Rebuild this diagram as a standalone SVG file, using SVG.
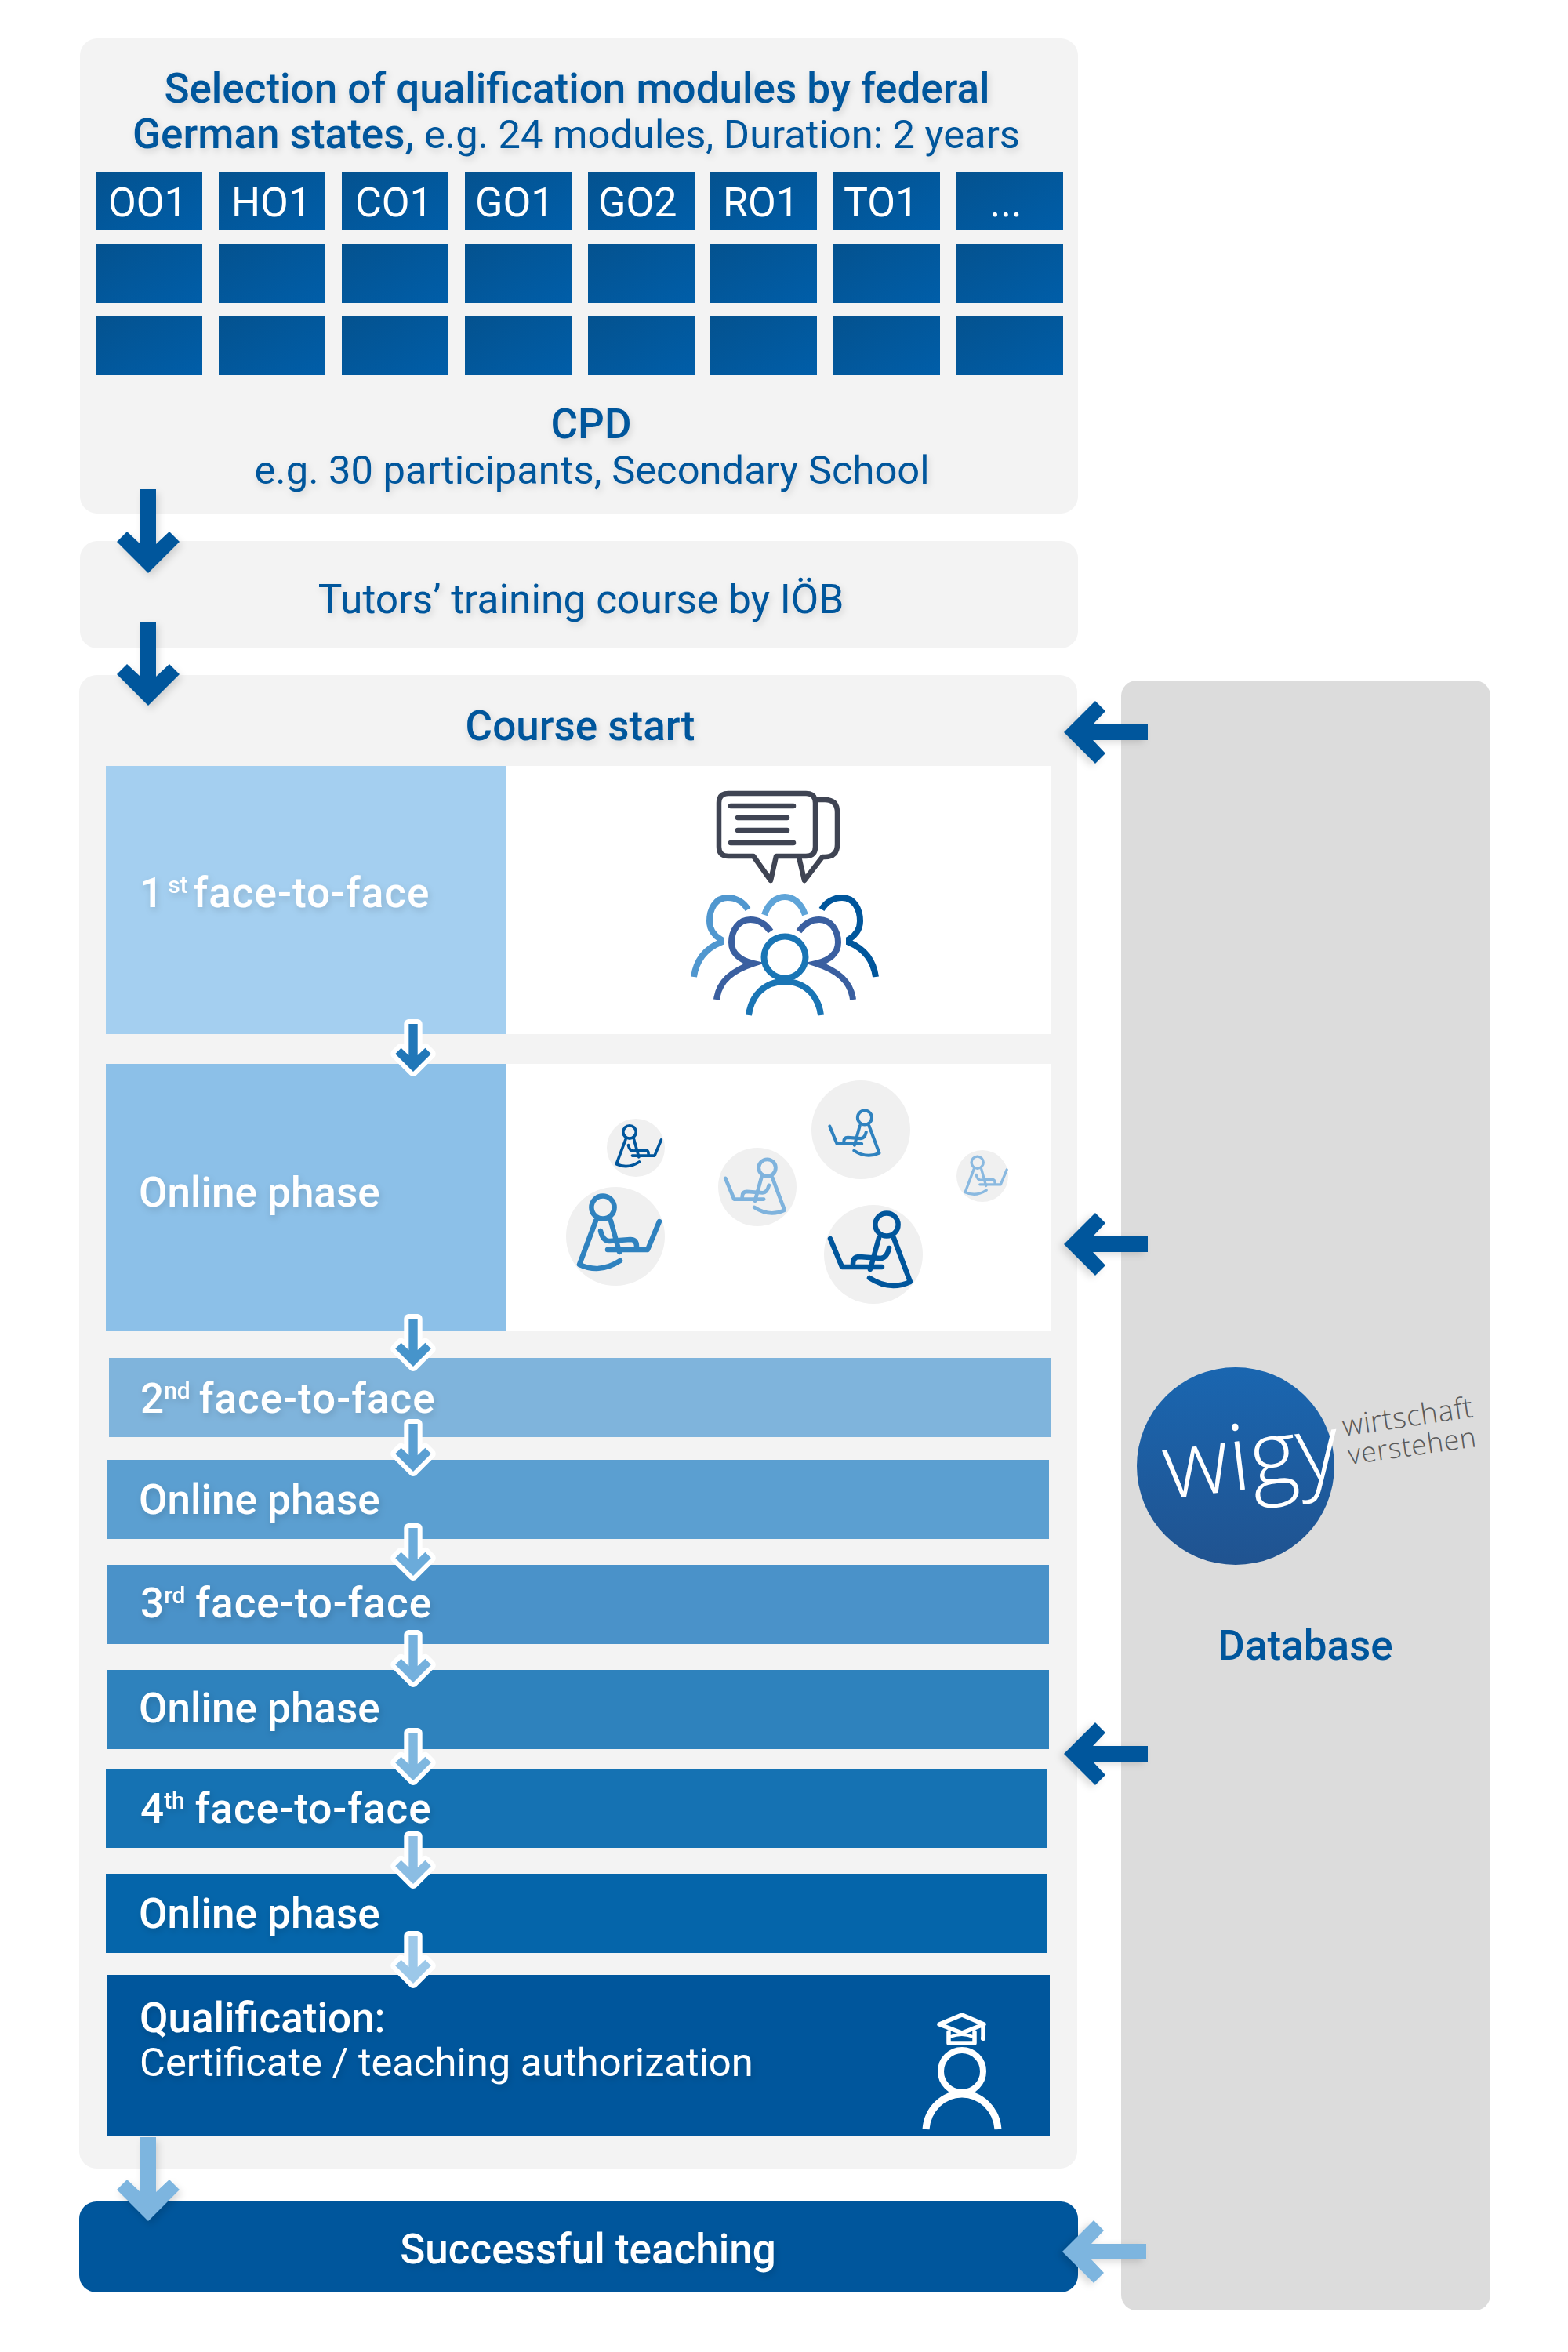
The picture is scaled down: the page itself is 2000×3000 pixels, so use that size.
<svg xmlns="http://www.w3.org/2000/svg" xmlns:xlink="http://www.w3.org/1999/xlink" width="2000" height="3000" viewBox="0 0 2000 3000">
<style>
text{font-family:Roboto,"Noto Sans","Liberation Sans",sans-serif;font-size:52px}
.sh{filter:url(#ts)}
.blue{fill:#00569c}.wh{fill:#fff}.m{font-weight:500;font-size:53px}.r{font-weight:400;font-size:50.7px}.t{font-weight:400;font-size:52px}.c{text-anchor:middle}
.panel{fill:#f3f3f3}.tile{fill:url(#tg)}
.sup{font-size:30px}.ff{letter-spacing:1px}
.bub{fill:none;stroke:#3f4453;stroke-width:6.5;stroke-linejoin:round;stroke-linecap:round}
.ppl{fill:none;stroke-width:8}
.lap{fill:none;stroke-width:6.5;stroke-linecap:round;stroke-linejoin:round}
.logo{font-family:"Open Sans",sans-serif;font-weight:300}
.big{filter:url(#as)}
.small{stroke:#fff;stroke-width:21;stroke-linejoin:round;paint-order:stroke}
</style>
<defs>
<filter id="ts" x="-10%" y="-30%" width="120%" height="170%"><feDropShadow dx="2" dy="4" stdDeviation="4" flood-color="#000" flood-opacity=".14"/></filter>
<filter id="as" x="-30%" y="-30%" width="170%" height="170%"><feDropShadow dx="3" dy="5" stdDeviation="5" flood-color="#000" flood-opacity=".14"/></filter>
<linearGradient id="tg" x1="0" y1="0" x2="1" y2="1"><stop offset="0" stop-color="#04528f"/><stop offset="1" stop-color="#005ea9"/></linearGradient>
<linearGradient id="lg" x1="0" y1="0" x2="0" y2="1"><stop offset="0" stop-color="#1a66b0"/><stop offset="1" stop-color="#205390"/></linearGradient>
<path id="arrow" d="M-10-107H10V-37L27-53 40-40 0 0-40-40-27-53-10-37Z"/>
<g id="lapR"><circle cx="-16" cy="-37" r="14.6"/><path d="M-25-20L-46 36Q-20 48 6 31M-6-20L5 20"/><path d="M-19-7Q-16 6-8 6L19 4Q27 4 27 13M-10 17H41L56-19"/></g>
</defs>
<rect width="2000" height="3000" fill="#fff"/>

<g id="selection">
<rect class="panel" x="102" y="49" width="1273" height="606" rx="22"/>
<text class="sh blue m c" x="736" y="131">Selection of qualification modules by federal</text>
<text class="sh blue c" x="735" y="189"><tspan class="m">German states,</tspan><tspan class="r"> e.g. 24 modules, Duration: 2 years</tspan></text>
<g id="modules">
<rect class="tile" x="122" y="219" width="136" height="75"/><rect class="tile" x="279" y="219" width="136" height="75"/><rect class="tile" x="436" y="219" width="136" height="75"/><rect class="tile" x="593" y="219" width="136" height="75"/><rect class="tile" x="750" y="219" width="136" height="75"/><rect class="tile" x="906" y="219" width="136" height="75"/><rect class="tile" x="1063" y="219" width="136" height="75"/><rect class="tile" x="1220" y="219" width="136" height="75"/>
<rect class="tile" x="122" y="311" width="136" height="75"/><rect class="tile" x="279" y="311" width="136" height="75"/><rect class="tile" x="436" y="311" width="136" height="75"/><rect class="tile" x="593" y="311" width="136" height="75"/><rect class="tile" x="750" y="311" width="136" height="75"/><rect class="tile" x="906" y="311" width="136" height="75"/><rect class="tile" x="1063" y="311" width="136" height="75"/><rect class="tile" x="1220" y="311" width="136" height="75"/>
<rect class="tile" x="122" y="403" width="136" height="75"/><rect class="tile" x="279" y="403" width="136" height="75"/><rect class="tile" x="436" y="403" width="136" height="75"/><rect class="tile" x="593" y="403" width="136" height="75"/><rect class="tile" x="750" y="403" width="136" height="75"/><rect class="tile" x="906" y="403" width="136" height="75"/><rect class="tile" x="1063" y="403" width="136" height="75"/><rect class="tile" x="1220" y="403" width="136" height="75"/>
<text class="wh t" x="138" y="276">OO1</text><text class="wh t" x="295" y="276">HO1</text><text class="wh t" x="453" y="276">CO1</text><text class="wh t" x="606" y="276">GO1</text><text class="wh t" x="763" y="276">GO2</text><text class="wh t" x="922" y="276">RO1</text><text class="wh t" x="1076" y="276">TO1</text><text class="wh t c" x="1283" y="276">...</text>
</g>
<text class="sh blue m c" x="754" y="559">CPD</text>
<text class="sh blue r c" x="755" y="617">e.g. 30 participants, Secondary School</text>
</g>

<g id="tutors">
<rect class="panel" x="102" y="690" width="1273" height="137" rx="22"/>
<text class="sh blue r c" x="741" y="782" style="font-size:51.5px">Tutors’ training course by IÖB</text>
</g>

<g id="course">
<rect class="panel" x="101" y="861" width="1273" height="1905" rx="22"/>
<text class="sh blue m c" x="740" y="944">Course start</text>
</g>

<g id="f2f1">
<rect x="135" y="977" width="511" height="342" fill="#a4cff0"/>
<rect x="646" y="977" width="694" height="342" fill="#fff"/>
<text class="sh wh m" x="178" y="1157">1<tspan class="sup" dx="6" dy="-18">st</tspan><tspan class="ff" dx="7" dy="18">face-to-face</tspan></text>
<g class="bub">
<path d="M1041 1020H1052Q1068 1020 1068 1036V1077Q1068 1093 1052 1093H1049L1026 1123 1019 1093"/>
<path d="M929 1012H1028Q1040 1012 1040 1024V1080Q1040 1092 1028 1092H990L983 1123 961 1092H929Q917 1092 917 1080V1024Q917 1012 929 1012Z"/>
<path d="M932 1028H1012M941 1043H1004M941 1059H1004M932 1075H1012"/>
</g>
<g class="ppl">
<path stroke="#5097cf" d="M954 1160C948 1150 938 1145 928 1145 912 1145 905 1160 905 1175 905 1186 912 1194 919 1198V1202C900 1210 888 1225 885 1246"/>
<path stroke="#5fa4d8" d="M975 1167C980 1152 990 1144 1001 1144 1012 1144 1022 1152 1027 1167"/>
<path stroke="#00569c" d="M1048 1160C1054 1150 1064 1145 1074 1145 1090 1145 1097 1160 1097 1175 1097 1186 1090 1194 1083 1198V1202C1102 1210 1114 1225 1117 1246"/>
<path stroke="#3a5fa0" d="M983 1188C976 1178 967 1173 957 1173 942 1173 933 1187 933 1202 933 1215 943 1225 961 1229 936 1237 917 1250 914 1275"/>
<path stroke="#3a5fa0" d="M1019 1188C1026 1178 1035 1173 1045 1173 1060 1173 1069 1187 1069 1202 1069 1215 1059 1225 1041 1229 1066 1237 1085 1250 1088 1275"/>
<ellipse stroke="#1a75b5" cx="1001" cy="1221" rx="26.5" ry="26.5"/>
<path stroke="#1a75b5" d="M955 1295C958 1270 975 1252 1001 1252 1027 1252 1044 1270 1047 1295"/>
</g>
</g>

<g id="online1">
<rect x="135" y="1357" width="511" height="341" fill="#8cc0e8"/>
<rect x="646" y="1357" width="694" height="341" fill="#fff"/>
<text class="sh wh m" x="177" y="1539">Online phase</text>
<g fill="#f0f0f0"><circle cx="811" cy="1464" r="37"/><circle cx="785" cy="1577" r="63"/><circle cx="966" cy="1514" r="50"/><circle cx="1098" cy="1441" r="63"/><circle cx="1114" cy="1600" r="63"/><circle cx="1253" cy="1500" r="33"/></g>
<use href="#lapR" class="lap" stroke="#00569c" transform="translate(812 1464.6) scale(.56)"/>
<use href="#lapR" class="lap" stroke="#2f82bf" transform="translate(785 1577)"/>
<use href="#lapR" class="lap" stroke="#7fb3dd" transform="translate(966.7 1517) scale(-.74 .74)"/>
<use href="#lapR" class="lap" stroke="#2f82bf" transform="translate(1093 1448.4) scale(-.62 .62)"/>
<use href="#lapR" class="lap" stroke="#00569c" transform="translate(1115 1599) scale(-1 1)"/>
<use href="#lapR" class="lap" stroke="#8ab9e0" transform="translate(1255 1502) scale(.52)"/>
</g>

<g id="f2f2"><rect x="139" y="1732" width="1201" height="101" fill="#7fb4dc"/><text class="sh wh m" x="179" y="1802">2<tspan class="sup" dy="-18">nd</tspan><tspan class="ff" dx="11" dy="18">face-to-face</tspan></text></g>
<g id="online2"><rect x="137" y="1862" width="1201" height="101" fill="#5b9fd1"/><text class="sh wh m" x="177" y="1931">Online phase</text></g>
<g id="f2f3"><rect x="137" y="1996" width="1201" height="101" fill="#4a92c9"/><text class="sh wh m" x="179" y="2063">3<tspan class="sup" dy="-18">rd</tspan><tspan class="ff" dx="13" dy="18">face-to-face</tspan></text></g>
<g id="online3"><rect x="137" y="2130" width="1201" height="101" fill="#2e82bd"/><text class="sh wh m" x="177" y="2197">Online phase</text></g>
<g id="f2f4"><rect x="135" y="2256" width="1201" height="101" fill="#1572b3"/><text class="sh wh m" x="179" y="2325">4<tspan class="sup" dy="-18">th</tspan><tspan class="ff" dx="13" dy="18">face-to-face</tspan></text></g>
<g id="online4"><rect x="135" y="2390" width="1201" height="101" fill="#0565aa"/><text class="sh wh m" x="177" y="2459">Online phase</text></g>

<g id="qualification">
<rect x="137" y="2519" width="1202" height="206" fill="#00569c"/>
<text class="sh wh m" x="178" y="2592">Qualification:</text>
<text class="sh wh r" x="178" y="2648">Certificate / teaching authorization</text>
<g fill="none" stroke="#fff">
<path stroke-width="5.5" stroke-linejoin="round" stroke-linecap="round" d="M1198 2582L1227 2570 1255 2582 1227 2593ZM1210 2592V2606H1243V2592M1254 2583V2600"/>
<path stroke-width="4" d="M1212 2598Q1227 2592 1241 2598"/>
<circle cx="1227" cy="2642" r="27" stroke-width="8"/>
<path stroke-width="9" d="M1181 2716C1183 2690 1203 2671 1227 2671 1251 2671 1271 2690 1273 2716"/>
</g>
<circle cx="1254" cy="2600" r="3" fill="#fff"/>
</g>

<g id="teaching">
<rect x="101" y="2808" width="1274" height="116" rx="22" fill="#00569c"/>
<text class="sh wh m c" x="750" y="2887">Successful teaching</text>
</g>

<g id="database">
<rect x="1430" y="868" width="471" height="2079" rx="20" fill="#dcdcdc"/>
<circle cx="1576" cy="1870" r="126" fill="url(#lg)"/>
<text class="logo" transform="translate(1488 1912) rotate(-7)" fill="#fff" style="font-size:117px">wigy</text>
<text class="logo" transform="translate(1714 1832) rotate(-8.5)" fill="#5a5a5a" style="font-size:37px;letter-spacing:.7px">wirtschaft</text>
<text class="logo" transform="translate(1721 1868) rotate(-8)" fill="#5a5a5a" style="font-size:35.5px;letter-spacing:.7px">verstehen</text>
<text class="blue m c" x="1665" y="2117">Database</text>
</g>

<g id="connectors">
<use href="#arrow" class="big" fill="#00569c" transform="translate(189 731)"/>
<use href="#arrow" class="big" fill="#00569c" transform="translate(189 900)"/>
<use href="#arrow" class="big" fill="#00569c" transform="translate(1357 934) rotate(90)"/>
<use href="#arrow" class="big" fill="#00569c" transform="translate(1357 1587) rotate(90)"/>
<use href="#arrow" class="big" fill="#00569c" transform="translate(1357 2237) rotate(90)"/>
<use href="#arrow" class="big" fill="#7db5df" transform="translate(1355 2872) rotate(90)"/>
<use href="#arrow" class="big" fill="#7db5df" transform="translate(189 2833)"/>
<use href="#arrow" class="small" fill="#2177b8" transform="translate(527 1367) scale(.57)"/>
<use href="#arrow" class="small" fill="#4694cb" transform="translate(527 1743) scale(.57)"/>
<use href="#arrow" class="small" fill="#5a9fd2" transform="translate(527 1877) scale(.57)"/>
<use href="#arrow" class="small" fill="#6babda" transform="translate(527 2010) scale(.57)"/>
<use href="#arrow" class="small" fill="#74b0dd" transform="translate(527 2146) scale(.57)"/>
<use href="#arrow" class="small" fill="#7fb7df" transform="translate(527 2271) scale(.57)"/>
<use href="#arrow" class="small" fill="#8bbde3" transform="translate(527 2403) scale(.57)"/>
<use href="#arrow" class="small" fill="#9cc8e9" transform="translate(527 2530) scale(.57)"/>
</g>
</svg>
